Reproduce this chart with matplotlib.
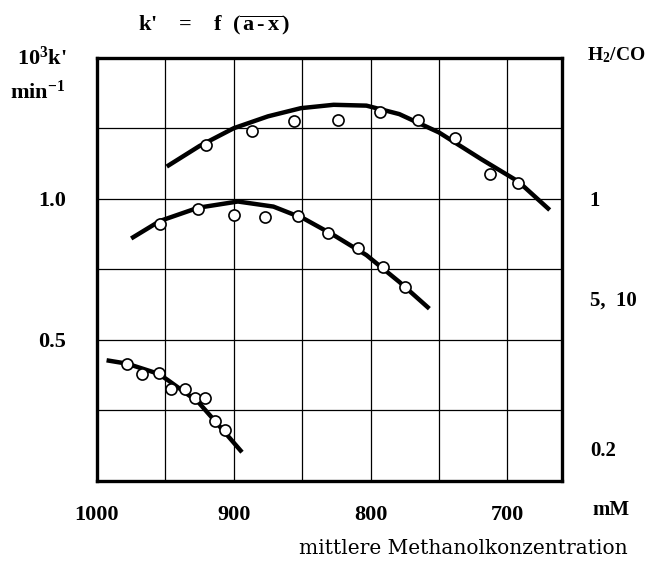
import numpy as np
import matplotlib
matplotlib.use("Agg")
from matplotlib import pyplot as plt

plt.rcParams['font.family'] = ['Liberation Serif', 'DejaVu Serif']
plt.rcParams['mathtext.fontset'] = 'custom'
plt.rcParams['mathtext.rm'] = 'Liberation Serif:bold'
plt.rcParams['mathtext.it'] = 'Liberation Serif:bold'
plt.rcParams['mathtext.bf'] = 'Liberation Serif:bold'

# measured points (mM, 10^3 k' / min^-1)
upper_x = [920, 887, 856, 824, 793, 765, 738, 713, 692]
upper_y = [1.19, 1.24, 1.275, 1.28, 1.31, 1.28, 1.215, 1.09, 1.055]
mid_x = [954, 926, 900, 877, 853, 831, 809, 791, 775]
mid_y = [0.913, 0.963, 0.942, 0.935, 0.941, 0.879, 0.827, 0.760, 0.689]
low_x = [978, 967, 955, 946, 936, 928, 921, 914, 906.5]
low_y = [0.416, 0.379, 0.384, 0.327, 0.325, 0.295, 0.295, 0.214, 0.181]

# hand-drawn fit curves
fit1_x = [949, 925, 900, 875, 851, 827, 803, 779, 750, 719, 692, 669]
fit1_y = [1.115, 1.188, 1.251, 1.293, 1.322, 1.334, 1.331, 1.301, 1.236, 1.141, 1.062, 0.961]
fit2_x = [975, 954, 926, 897, 871, 849, 827, 803, 779, 757]
fit2_y = [0.860, 0.922, 0.969, 0.991, 0.973, 0.931, 0.872, 0.801, 0.706, 0.611]
fit3_x = [993, 978, 955, 948, 926, 912, 894]
fit3_y = [0.428, 0.416, 0.380, 0.357, 0.280, 0.203, 0.102]

x_ticks = [1000, 950, 900, 850, 800, 750, 700]
x_labels = ['1000', '', '900', '', '800', '', '700']
y_ticks = [0, 0.25, 0.5, 0.75, 1.0, 1.25, 1.5]
y_labels = ['', '', '0.5', '', '1.0', '', '']
ratio_pos = [1.0, 0.647, 0.114]
ratio_labels = ['1', '5,  10', '0.2']

fig = plt.figure(figsize=(6.63, 5.64), dpi=100)
ax = fig.add_axes([0.1463, 0.1472, 0.7014, 0.75])

for fx, fy in [(fit1_x, fit1_y), (fit2_x, fit2_y), (fit3_x, fit3_y)]:
    ax.plot(fx, fy, color='black', lw=3.2, solid_capstyle='butt',
            solid_joinstyle='round', zorder=3)
for px, py in [(upper_x, upper_y), (mid_x, mid_y), (low_x, low_y)]:
    ax.plot(px, py, 'o', ms=8, mfc='white', mec='black', mew=1.2, zorder=4)

ax.set_xlim(1000, 660)
ax.set_ylim(0, 1.5)
ax.set_xticks(x_ticks)
ax.set_xticklabels(x_labels)
ax.set_yticks(y_ticks)
ax.set_yticklabels(y_labels)
ax.grid(True, color='black', lw=0.9)
ax.tick_params(length=0, labelsize=16)
ax.tick_params(axis='x', pad=17)
ax.tick_params(axis='y', pad=22)
for lab in ax.get_xticklabels() + ax.get_yticklabels():
    lab.set_fontweight('bold')
for sp in ax.spines.values():
    sp.set_linewidth(2.4)

ax2 = ax.twinx()
ax2.set_ylim(0, 1.5)
ax2.set_yticks(ratio_pos)
ax2.set_yticklabels(ratio_labels, fontweight='bold')
ax2.tick_params(length=0, labelsize=15, pad=20)
for sp in ax2.spines.values():
    sp.set_visible(False)

fig.text(0.885, 0.902, r'H$_2$/CO', fontsize=14, fontweight='bold', va='center', ha='left')
fig.text(0.063, 0.897, r"10$^3$k'", fontsize=16, fontweight='bold', va='center', ha='center')
fig.text(0.056, 0.837, r'min$^{-1}$', fontsize=16, fontweight='bold', va='center', ha='center')
fig.text(0.208, 0.956, r"k'    =    f  ($\overline{\mathrm{\,a\,\text{-}\,x\,}}$)",
         fontsize=16, fontweight='bold', va='center', ha='left')
fig.text(0.893, 0.096, 'mM', fontsize=15, fontweight='bold', va='center', ha='left')
fig.text(0.947, 0.028, 'mittlere Methanolkonzentration', fontsize=14.5,
         family='DejaVu Serif', va='center', ha='right')

fig.savefig('out.png', dpi=100)
